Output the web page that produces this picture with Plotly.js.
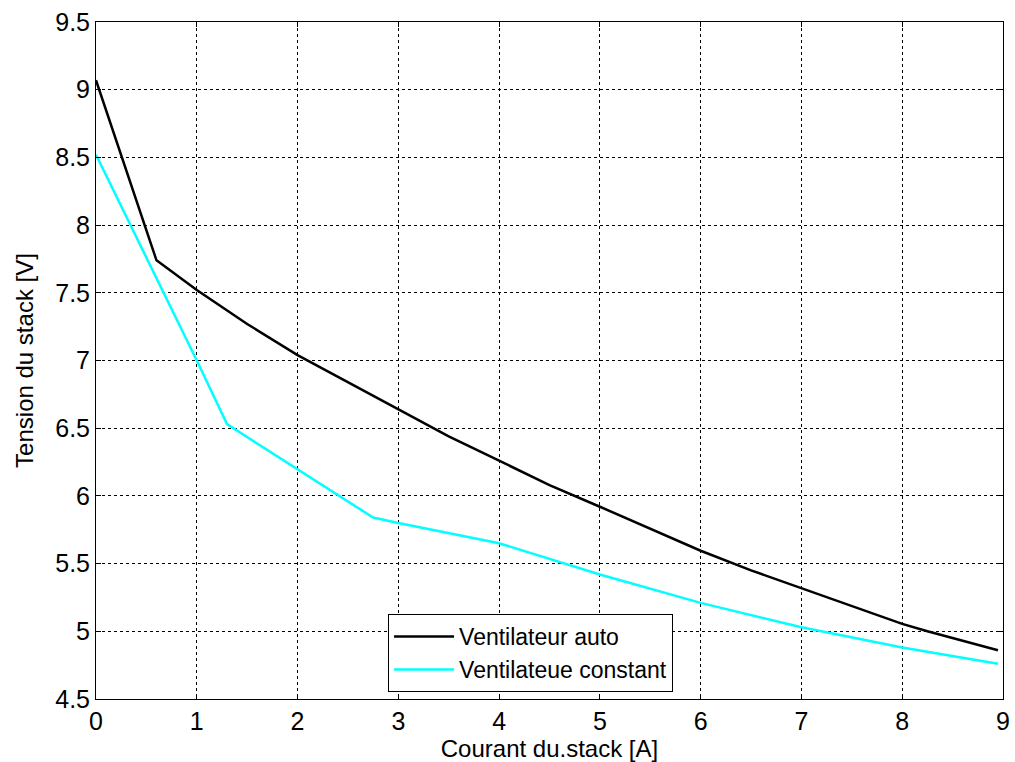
<!DOCTYPE html>
<html>
<head>
<meta charset="utf-8">
<script src="https://cdn.plot.ly/plotly-3.0.1.min.js"></script>
<style>html,body{margin:0;padding:0;background:#fff;}#chart{width:1015px;height:762px;}</style>
</head>
<body>
<div id="chart"></div>
<script>
const autoX = [0, 0.6, 1, 1.5, 2, 2.5, 3, 3.5, 4, 4.5, 5, 5.5, 6, 6.5, 7, 7.5, 8, 8.25, 8.95];
const autoY = [9.07, 7.74, 7.52, 7.27, 7.04, 6.84, 6.645, 6.44, 6.26, 6.08, 5.92, 5.76, 5.595, 5.45, 5.32, 5.19, 5.055, 5.0, 4.86];
const constX = [0, 1, 1.3, 2, 2.75, 3, 4, 5, 6, 7, 8, 8.95];
const constY = [8.52, 7.0, 6.53, 6.2, 5.84, 5.80, 5.65, 5.42, 5.21, 5.03, 4.88, 4.76];
const seriesNames = ["Ventilateur auto", "Ventilateue constant"];
const xTitle = "Courant du.stack [A]";
const yTitle = "Tension du stack [V]";

const font = "Liberation Sans, Arial, sans-serif";
const traces = [
  {x: autoX, y: autoY, mode: "lines", name: seriesNames[0], line: {color: "#000000", width: 2.5}},
  {x: constX, y: constY, mode: "lines", name: seriesNames[1], line: {color: "#00FFFF", width: 2.5}}
];
const axisCommon = {
  showline: true, mirror: "ticks", linecolor: "#000", linewidth: 1,
  ticks: "inside", ticklen: 5, tickcolor: "#000",
  showgrid: true, gridcolor: "#000", griddash: "3px,3px", gridwidth: 1,
  zeroline: false, tickfont: {family: font, size: 25, color: "#000"}
};
const layout = {
  width: 1015, height: 762,
  margin: {l: 96, r: 12, t: 22, b: 63},
  paper_bgcolor: "#fff", plot_bgcolor: "#fff",
  showlegend: true,
  xaxis: Object.assign({}, axisCommon, {
    range: [0, 9], dtick: 1, tick0: 0, ticklabelstandoff: 0,
    title: {text: xTitle, font: {family: font, size: 24, color: "#000"}, standoff: 6}
  }),
  yaxis: Object.assign({}, axisCommon, {
    range: [4.5, 9.5], dtick: 0.5, tick0: 4.5,
    title: {text: yTitle, font: {family: font, size: 24, color: "#000"}, standoff: 14}
  }),
  legend: {
    x: 0.322, y: 0.0103, xanchor: "left", yanchor: "bottom",
    bgcolor: "#fff", bordercolor: "#000", borderwidth: 1,
    font: {family: font, size: 23, color: "#000"},
    itemwidth: 60, tracegroupgap: 0
  }
};
Plotly.newPlot("chart", traces, layout, {displayModeBar: false, staticPlot: true});
</script>
</body>
</html>
